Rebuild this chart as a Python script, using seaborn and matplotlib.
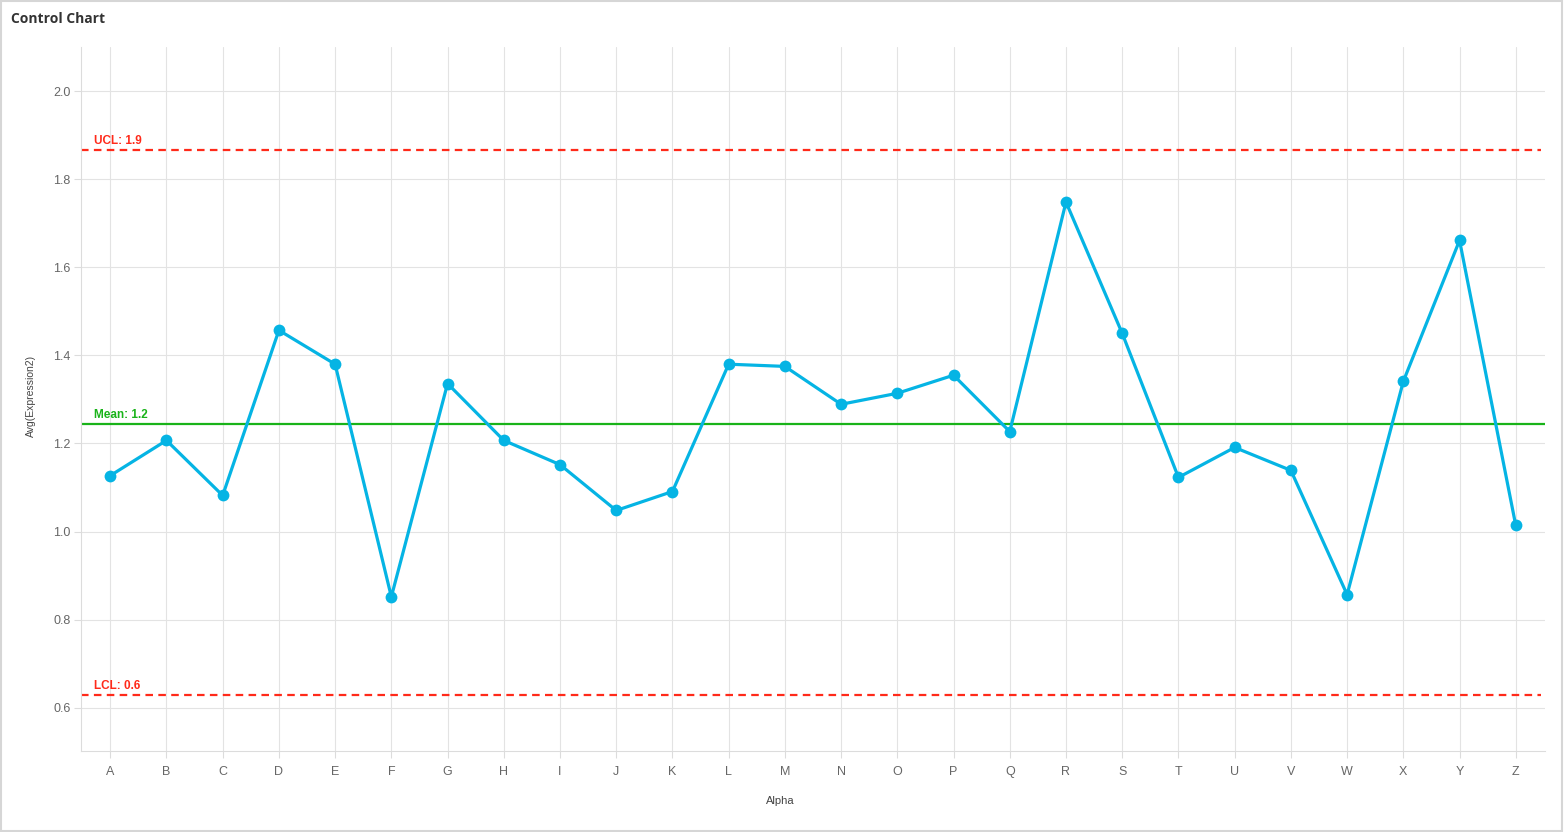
import matplotlib
matplotlib.use("Agg")
import matplotlib.pyplot as plt
import matplotlib.patches as mpatches
import seaborn as sns
import pandas as pd

categories = list("ABCDEFGHIJKLMNOPQRSTUVWXYZ")
values = [1.127, 1.207, 1.082, 1.457, 1.380, 0.852, 1.336, 1.207, 1.152, 1.048,
          1.091, 1.380, 1.375, 1.289, 1.314, 1.355, 1.227, 1.748, 1.450, 1.123,
          1.191, 1.139, 0.857, 1.341, 1.661, 1.014]
ucl = 1.866
mean = 1.245
lcl = 0.630
ucl_label = "UCL: 1.9"
mean_label = "Mean: 1.2"
lcl_label = "LCL: 0.6"
y_ticks = [0.6, 0.8, 1.0, 1.2, 1.4, 1.6, 1.8, 2.0]

sns.set_theme(style="white")
plt.rcParams['font.family'] = ['Liberation Sans', 'DejaVu Sans']

df = pd.DataFrame({"Alpha": categories, "Avg(Expression2)": values})

fig = plt.figure(figsize=(15.64, 8.32), dpi=100)
ax = fig.add_axes([81/1564, 1-751/832, (1545-81)/1564, (751-47)/832])

ax.axhline(ucl, color="#ff2a1a", lw=1.6, linestyle=(0, (3.4, 2.4)), xmin=0, xmax=0.997, zorder=2)
ax.axhline(lcl, color="#ff2a1a", lw=1.6, linestyle=(0, (3.4, 2.4)), xmin=0, xmax=0.997, zorder=2)
ax.axhline(mean, color="#19b319", lw=1.6, zorder=2)

sns.lineplot(data=df, x="Alpha", y="Avg(Expression2)", ax=ax, sort=False,
             color="#05b4e4", lw=2.3, marker="o", markersize=8.5,
             markeredgewidth=0, zorder=3)

ax.set_xlim(-0.52, 25.52)
ax.set_ylim(0.502, 2.1)
ax.set_yticks(y_ticks)
ax.set_yticklabels([f"{v:.1f}" for v in y_ticks])

ax.grid(True, color="#e3e3e3", lw=0.8)
ax.set_axisbelow(True)
for s in ["top", "right"]:
    ax.spines[s].set_visible(False)
for s in ["left", "bottom"]:
    ax.spines[s].set_color("#dcdcdc")
    ax.spines[s].set_linewidth(0.8)
ax.tick_params(axis="both", colors="#dcdcdc", labelcolor="#666666", labelsize=9,
               length=5, width=0.8, left=True, bottom=True)
ax.tick_params(axis="y", pad=2.5)
ax.tick_params(axis="x", pad=6)

ax.set_xlabel("Alpha", fontsize=8, color="#444444")
ax.set_ylabel("Avg(Expression2)", fontsize=7.5, color="#444444")
ax.xaxis.set_label_coords(0.478, -0.064)
ax.yaxis.set_label_coords(-0.031, 0.505)

trans = ax.get_yaxis_transform()
ax.text(0.009, ucl + 0.007, ucl_label, transform=trans, color="#ff2a1a",
        fontsize=8.5, fontweight="bold", va="bottom", ha="left")
ax.text(0.009, mean + 0.007, mean_label, transform=trans, color="#19b319",
        fontsize=8.5, fontweight="bold", va="bottom", ha="left")
ax.text(0.009, lcl + 0.007, lcl_label, transform=trans, color="#ff2a1a",
        fontsize=8.5, fontweight="bold", va="bottom", ha="left")

fig.text(11/1564, 1-19/832, "Control Chart", fontsize=10, fontweight="bold",
         color="#333333", va="center", ha="left", family=["Open Sans", "DejaVu Sans"])

fig.patches.append(mpatches.Rectangle((0.0005, 0.001), 0.998, 0.998, transform=fig.transFigure,
                                      fill=False, edgecolor="#d6d6d6", lw=1.5))

fig.savefig("out.png", dpi=100)
